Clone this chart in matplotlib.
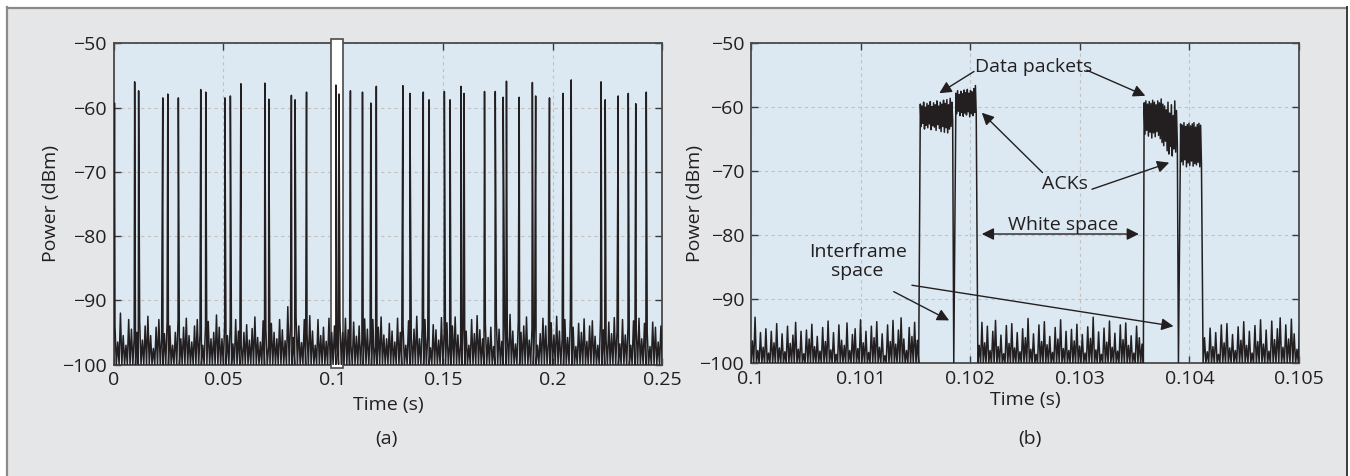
import numpy as np
import matplotlib.pyplot as plt
from matplotlib.patches import Rectangle
from matplotlib.lines import Line2D

plt.rcParams['font.family'] = ['Open Sans', 'DejaVu Sans']
plt.rcParams['font.size'] = 14

INK = '#231f20'
FLOOR = -100.0

# ---- data -------------------------------------------------------------
yticks = [-100, -90, -80, -70, -60, -50]
ytick_labels = ['\u2212100', '\u221290', '\u221280', '\u221270', '\u221260', '\u221250']

xticks_a = [0, 0.05, 0.1, 0.15, 0.2, 0.25]
xtick_labels_a = ['0', '0.05', '0.1', '0.15', '0.2', '0.25']
xticks_b = [0.1, 0.101, 0.102, 0.103, 0.104, 0.105]
xtick_labels_b = ['0.1', '0.101', '0.102', '0.103', '0.104', '0.105']

# (a) packet spikes: time (s) and peak power (dBm)
spike_t = [0.0004, 0.0096, 0.0114, 0.0224, 0.0247, 0.0295, 0.0397, 0.0420,
           0.0507, 0.0532, 0.0580, 0.0689, 0.0707, 0.0810, 0.0827, 0.0879,
           0.1013, 0.1027, 0.1079, 0.1134, 0.1172, 0.1197, 0.1318, 0.1350,
           0.1411, 0.1437, 0.1507, 0.1533, 0.1583, 0.1597, 0.1690, 0.1739,
           0.1775, 0.1790, 0.1848, 0.1908, 0.1923, 0.1986, 0.2048, 0.2085,
           0.2221, 0.2240, 0.2299, 0.2345, 0.2379, 0.2427]
spike_p = [-59.3, -56.0, -57.4, -58.5, -57.9, -58.5, -57.2, -57.6,
           -58.5, -58.2, -56.3, -56.2, -58.7, -58.1, -58.8, -57.6,
           -56.5, -57.9, -57.4, -57.6, -59.3, -56.7, -56.6, -57.8,
           -57.6, -58.8, -57.5, -58.8, -56.7, -57.8, -57.5, -57.5,
           -58.4, -55.9, -58.4, -56.1, -58.2, -58.5, -57.8, -55.7,
           -56.0, -58.8, -58.2, -57.8, -59.4, -57.6]

# (a) noise floor peaks, 0 to 0.25 s
noise_a = [
    -94.0, -96.5, -92.0, -95.5, -97.0, -93.0, -94.5, -96.0, -95.0, -93.2,
    -96.2, -94.0, -92.5, -95.5, -97.5, -94.2, -93.0, -96.0, -95.2, -93.5,
    -94.0, -97.0, -95.0, -93.0, -96.0, -94.2, -92.8, -95.5, -96.5, -94.0,
    -93.0, -95.2, -97.0, -94.0, -93.3, -96.0, -95.0, -92.3, -94.2, -96.0,
    -93.5, -95.5, -94.0, -96.8, -93.0, -94.8, -97.0, -95.0, -93.8, -96.2,
    -94.4, -92.6, -95.8, -96.5, -93.2, -94.5, -97.2, -93.6, -95.0, -96.0,
    -93.0, -94.6, -96.3, -91.0, -93.5, -95.8, -92.5, -94.0, -96.6, -93.0,
    -95.2, -92.4, -94.8, -97.0, -93.0, -95.5, -94.2, -96.4, -92.8, -95.0,
    -94.0, -96.8, -93.2, -95.0, -92.8, -94.6, -97.0, -93.4, -95.6, -94.0,
    -96.2, -92.9, -94.5, -95.8, -93.0, -97.2, -94.2, -92.6, -95.4, -96.0,
    -93.6, -94.8, -96.5, -92.8, -95.0, -94.0, -97.0, -93.2, -95.8, -94.5,
    -92.5, -96.0, -94.2, -93.0, -95.5, -97.4, -93.8, -94.6, -96.2, -92.7,
    -95.0, -93.5, -96.8, -94.0, -92.6, -95.4, -96.6, -93.2, -94.8, -97.0,
    -93.0, -95.2, -92.4, -94.6, -96.0, -93.6, -95.8, -94.2, -97.2, -92.8,
    -94.5, -96.4, -93.0, -95.6, -92.2, -94.8, -96.8, -93.4, -95.0, -94.0,
    -92.6, -96.2, -94.4, -93.2, -97.0, -95.2, -92.8, -94.0, -96.6, -93.5,
    -95.4, -92.5, -94.8, -96.0, -93.0, -95.8, -92.6, -94.2, -97.2, -93.6,
    -95.0, -92.9, -96.4, -94.0, -93.2, -95.6, -97.0, -92.8, -94.6, -96.2,
    -93.4, -95.2, -92.7, -94.8, -96.8, -93.0, -95.4, -94.0, -97.0, -93.2,
    -94.6, -92.8, -96.0, -93.6, -95.0, -97.2, -93.4, -94.2, -96.5, -94.0]

# (b) noise floor peaks between the frames
noise_b1 = [-96.5, -92.8, -98.0, -95.2, -97.5, -94.6, -98.4, -95.0, -96.8, -93.8,
            -97.6, -95.4, -98.2, -94.2, -96.9, -95.6, -93.6, -97.8, -95.0, -98.5,
            -94.8, -96.2, -93.9, -97.4, -95.8, -98.1, -94.4, -96.6, -93.4, -97.9,
            -95.2, -98.6, -94.0, -96.4, -97.2, -93.7, -98.0, -95.5, -94.6, -97.7,
            -93.2, -96.8, -95.0, -98.3, -94.2, -96.0, -93.5, -97.5, -95.4, -98.8,
            -94.0, -96.6, -93.3, -97.0, -94.8, -92.9, -96.2, -98.0, -94.4, -95.8,
            -93.6, -96.4]
noise_b2 = [-97.2, -93.6, -96.8, -94.2, -98.0, -95.0, -93.3, -97.4, -95.6, -98.5,
            -94.1, -96.9, -93.8, -97.6, -95.2, -98.2, -94.6, -96.0, -93.0, -97.8,
            -95.4, -98.6, -94.0, -96.6, -93.5, -97.1, -95.8, -98.3, -94.4, -96.2,
            -93.2, -97.7, -95.0, -98.0, -94.7, -96.5, -93.9, -97.3, -95.5, -98.4,
            -94.3, -96.1, -92.8, -97.9, -95.1, -98.6, -94.5, -96.7, -93.4, -97.5,
            -95.3, -98.1, -94.0, -96.3, -93.7, -97.2, -95.7, -98.4, -94.2, -96.0,
            -97.0]
noise_b3 = [-96.0, -98.2, -94.5, -97.4, -95.2, -98.6, -94.0, -96.8, -93.8, -97.6,
            -95.5, -98.0, -94.3, -96.4, -93.5, -97.2, -95.0, -98.4, -94.1, -96.6,
            -93.2, -97.0, -94.8, -98.1, -93.4, -96.3, -94.6, -92.9, -97.5, -94.0,
            -96.2, -93.1, -95.4, -97.8, -93.6]

# (b) frames
data1 = [-59.5, -63.0, -59.8, -62.5, -59.2, -63.4, -60.0, -62.8, -59.4, -63.2,
         -59.7, -62.6, -59.1, -63.5, -59.9, -62.9, -59.3, -63.1, -59.6, -63.6,
         -59.0, -62.7, -59.8, -63.3, -59.2, -63.8, -59.5, -63.0, -58.9, -63.9,
         -59.4, -63.2, -58.8, -64.0, -59.6, -63.4, -58.6, -63.0, -59.2, -62.0]
ack1 = [-57.8, -61.0, -57.4, -60.6, -58.0, -61.3, -57.5, -60.8, -57.9, -61.4,
        -57.3, -60.9, -57.7, -61.2, -57.2, -60.7, -57.8, -61.5, -57.4, -61.0,
        -57.6, -61.3, -57.1, -60.8, -56.6, -61.0]
data2 = [-59.3, -64.2, -59.0, -63.6, -59.5, -64.5, -59.1, -63.9, -59.4, -64.8,
         -58.9, -64.0, -59.2, -64.6, -59.6, -63.8, -59.0, -64.4, -59.3, -64.9,
         -58.7, -65.5, -59.5, -66.0, -59.8, -65.3, -60.4, -66.8, -59.2, -67.3,
         -60.9, -66.1, -59.6, -67.6, -61.3, -66.5, -59.0, -67.0, -60.5, -65.8]
ack2 = [-62.6, -68.5, -62.8, -69.0, -62.4, -68.2, -63.0, -69.3, -62.7, -68.7,
        -62.5, -69.1, -62.9, -68.4, -62.6, -69.2, -62.4, -68.8, -63.1, -69.0,
        -62.7, -68.6, -62.5, -69.3, -62.8, -68.9]


def zigzag(peaks):
    v = [FLOOR]
    for p in peaks:
        v += [p, FLOOR]
    return v


# ---- build series -----------------------------------------------------
va_noise = zigzag(noise_a)
ta_noise = np.linspace(0, 0.25, len(va_noise))
ta = np.concatenate([ta_noise, spike_t])
va = np.concatenate([va_noise, spike_p])
order = np.argsort(ta, kind='stable')
ta, va = ta[order], va[order]

segments_b = [
    (0.1, 0.10153, zigzag(noise_b1)),
    (0.101545, 0.10184, data1),
    (0.10185, 0.10185, [FLOOR]),
    (0.10187, 0.102055, ack1),
    (0.10207, 0.10358, zigzag(noise_b2)),
    (0.103587, 0.10389, data2),
    (0.1039, 0.1039, [FLOOR]),
    (0.10392, 0.10411, ack2),
    (0.104125, 0.10502, zigzag(noise_b3)),
]
tb = np.concatenate([np.linspace(t0, t1, len(v)) for t0, t1, v in segments_b])
vb = np.concatenate([v for _, _, v in segments_b])

# ---- figure -----------------------------------------------------------
fig = plt.figure(figsize=(13.5, 4.76), dpi=100)
fig.patch.set_facecolor('white')
W, H = 1350.0, 476.0
fig.add_artist(Rectangle((7 / W, 0), 1340 / W, 1 - 7 / H, transform=fig.transFigure,
                         facecolor='#e5e6e7', edgecolor='none', zorder=-5))
fig.add_artist(Line2D([7 / W, 1347 / W], [1 - 7.5 / H] * 2, transform=fig.transFigure,
                      color='#8a8a8a', lw=1.6, zorder=-4))
fig.add_artist(Line2D([7 / W] * 2, [0, 1 - 7 / H], transform=fig.transFigure,
                      color='#8a8a8a', lw=1.6, zorder=-4))
fig.add_artist(Line2D([1347 / W] * 2, [0, 1 - 7 / H], transform=fig.transFigure,
                      color='#3a3a3a', lw=1.4, zorder=-4))

ax1 = fig.add_axes([113.6 / W, 1 - 364.5 / H, 548.7 / W, 321.2 / H])
ax2 = fig.add_axes([751.0 / W, 1 - 363.3 / H, 548.0 / W, 320.0 / H])


def style(ax, xticks, xlabels, xlim):
    ax.set_facecolor('#dce9f2')
    ax.set_xlim(*xlim)
    ax.set_ylim(-100, -50)
    ax.set_xticks(xticks)
    ax.set_xticklabels(xlabels)
    ax.set_yticks(yticks)
    ax.set_yticklabels(ytick_labels)
    ax.grid(True, color='#c2c2c2', linestyle=(0, (3, 3)), linewidth=0.8)
    ax.tick_params(direction='in', length=5, width=1.0, top=True, right=True,
                   pad=5, color='#3a3a3a', labelcolor=INK)
    for s in ax.spines.values():
        s.set_color('#4a4a4a')
        s.set_linewidth(1.3)
    ax.set_xlabel('Time (s)', color=INK, va='center')
    ax.set_ylabel('Power (dBm)', color=INK, va='center')


style(ax1, xticks_a, xtick_labels_a, (0, 0.25))
style(ax2, xticks_b, xtick_labels_b, (0.1, 0.105))
ax1.xaxis.set_label_coords(0.5, -0.126)
ax2.xaxis.set_label_coords(0.5, -0.115)
ax1.yaxis.set_label_coords(-0.114, 0.5)
ax2.yaxis.set_label_coords(-0.102, 0.5)

# (a)
ax1.add_patch(Rectangle((0.099, -100.6), 0.0053, 51.3, facecolor='white',
                        edgecolor='#4a4a4a', lw=1.2, clip_on=False, zorder=2.6))
ax1.plot(ta, va, color=INK, lw=1.1, zorder=3)

# (b)
ax2.plot(tb, vb, color=INK, lw=1.1, zorder=3)

arrow = dict(arrowstyle='-|>', color=INK, lw=1.0, mutation_scale=18,
             shrinkA=0, shrinkB=0)
ax2.text(0.102581, -53.65, 'Data packets', ha='center', va='center', color=INK)
ax2.annotate('', xy=(0.101718, -57.8), xytext=(0.102035, -54.4), arrowprops=arrow)
ax2.annotate('', xy=(0.103598, -58.2), xytext=(0.103064, -54.2), arrowprops=arrow)

ax2.text(0.102866, -72.0, 'ACKs', ha='center', va='center', color=INK)
ax2.annotate('', xy=(0.102106, -60.85), xytext=(0.10266, -70.2), arrowprops=arrow)
ax2.annotate('', xy=(0.103816, -68.65), xytext=(0.103111, -72.8), arrowprops=arrow)

ax2.text(0.102847, -78.4, 'White space', ha='center', va='center', color=INK)
ax2.annotate('', xy=(0.102106, -79.8), xytext=(0.103539, -79.8),
             arrowprops=dict(arrow, arrowstyle='<|-|>'))

ax2.text(0.100973, -84.1, 'Interframe\nspace', ha='center', va='center',
         color=INK, linespacing=1.1)
ax2.annotate('', xy=(0.101808, -93.3), xytext=(0.101302, -88.8), arrowprops=arrow)
ax2.annotate('', xy=(0.103855, -94.2), xytext=(0.101468, -87.8), arrowprops=arrow)

fig.text(386 / W, 1 - 439 / H, '(a)', ha='center', va='center', color=INK)
fig.text(1030 / W, 1 - 439 / H, '(b)', ha='center', va='center', color=INK)

fig.savefig('out.png', dpi=100)
